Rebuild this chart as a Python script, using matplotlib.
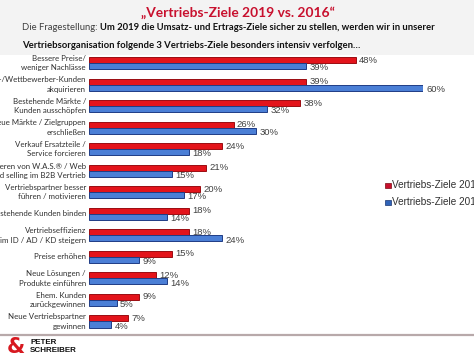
import matplotlib.pyplot as plt
from matplotlib.patches import Rectangle

# Daten
ziele = [
    "Bessere Preise/\nweniger Nachlässe",
    "Neu-/Wettbewerber-Kunden\nakquirieren",
    "Bestehende Märkte /\nKunden ausschöpfen",
    "Neue Märkte / Zielgruppen\nerschließen",
    "Verkauf Ersatzteile /\nService forcieren",
    "Forcieren von W.A.S.® / Web\nbased selling im B2B Vertrieb",
    "Vertriebspartner besser\nführen / motivieren",
    "Bestehende Kunden binden",
    "Vertriebseffizienz\nim ID / AD / KD steigern",
    "Preise erhöhen",
    "Neue Lösungen /\nProdukte einführen",
    "Ehem. Kunden\nzurückgewinnen",
    "Neue Vertriebspartner\ngewinnen",
]
werte_2019 = [48, 39, 38, 26, 24, 21, 20, 18, 18, 15, 12, 9, 7]
werte_2016 = [39, 60, 32, 30, 18, 15, 17, 14, 24, 9, 14, 5, 4]
serien = ["Vertriebs-Ziele 2019", "Vertriebs-Ziele 2016"]

W, H = 474, 355
fig = plt.figure(figsize=(W / 100, H / 100), dpi=100)
fig.patch.set_facecolor("white")

# grauer Kopfbereich
fig.add_artist(Rectangle((0, 1 - 55 / H), 1, 55 / H, transform=fig.transFigure,
                         facecolor="#f3f3f3", edgecolor="none", zorder=0))

fig.text(238 / W, 1 - 13 / H, "„Vertriebs-Ziele 2019 vs. 2016“", ha="center", va="center",
         color="#c8102e", fontsize=9.9, fontweight="bold", family="Lato")

renderer = fig.canvas.get_renderer()
t1 = fig.text(22 / W, 1 - 28 / H, "Die Fragestellung: ", ha="left", va="center",
              color="#404040", fontsize=6.8, family="Lato")
bb = t1.get_window_extent(renderer)
fig.text(bb.x1 / W, 1 - 28 / H,
         "Um 2019 die Umsatz- und Ertrags-Ziele sicher zu stellen, werden wir in unserer",
         ha="left", va="center", color="#111111", fontsize=6.8, fontweight="bold", family="Lato")
fig.text(22 / W, 1 - 45 / H,
         "Vertriebsorganisation folgende 3 Vertriebs-Ziele besonders intensiv verfolgen…",
         ha="left", va="center", color="#111111", fontsize=6.8, fontweight="bold", family="Lato")

# Diagramm
left, right = 89 / W, 422.7 / W
top, bottom = 1 - 52.25 / H, 1 - 332.25 / H
ax = fig.add_axes([left, bottom, right - left, top - bottom])
ax.set_xlim(0, 60)
ax.set_ylim(len(ziele) - 0.5, -0.5)
ax.axis("off")

h = 0.28
y = list(range(len(ziele)))
ax.barh([i - h / 2 for i in y], werte_2019, height=h, color="#e3141b",
        edgecolor="#9b0d12", linewidth=0.7)
ax.barh([i + h / 2 for i in y], werte_2016, height=h, color="#4b7fd6",
        edgecolor="#1f3c85", linewidth=0.7)

for i in y:
    ax.text(werte_2019[i] + 0.6, i - h / 2, f"{werte_2019[i]}%", va="center", ha="left",
            fontsize=6.8, color="#404040", family="Liberation Sans")
    ax.text(werte_2016[i] + 0.6, i + h / 2 + 0.08, f"{werte_2016[i]}%", va="center", ha="left",
            fontsize=6.8, color="#404040", family="Liberation Sans")
    ax.text(-0.55, i, ziele[i], va="center", ha="right", fontsize=5.7, color="#303030",
            family="Lato", linespacing=1.4, clip_on=False)

# Legende (rechts abgeschnitten wie im Original)
for yy, col, ec, name in [(185, "#c8102e", "#7a0a10", serien[0]), (202, "#2f63b8", "#1a3570", serien[1])]:
    fig.add_artist(Rectangle((385 / W, 1 - (yy + 3) / H), 5.5 / W, 5.5 / H,
                             transform=fig.transFigure, facecolor=col, edgecolor=ec, lw=0.5))
    fig.text(392 / W, 1 - yy / H, name, ha="left", va="center", fontsize=7.2,
             color="#303030", family="Liberation Sans")

# Fußlinie und Logo
fig.add_artist(plt.Line2D([0, 1], [1 - 335 / H, 1 - 335 / H], transform=fig.transFigure,
                          color="#b8a9aa", lw=1.6))
fig.text(7 / W, 1 - 347 / H, "&", ha="left", va="center", fontsize=15, fontweight="bold",
         color="#d71920", family="DejaVu Sans")
fig.text(30 / W, 1 - 342 / H, "PETER", ha="left", va="center", fontsize=5.8,
         fontweight="bold", color="#111111", family="Liberation Sans")
fig.text(30 / W, 1 - 350 / H, "SCHREIBER", ha="left", va="center", fontsize=5.8,
         fontweight="bold", color="#111111", family="Liberation Sans")

fig.savefig("out.png", dpi=100)
